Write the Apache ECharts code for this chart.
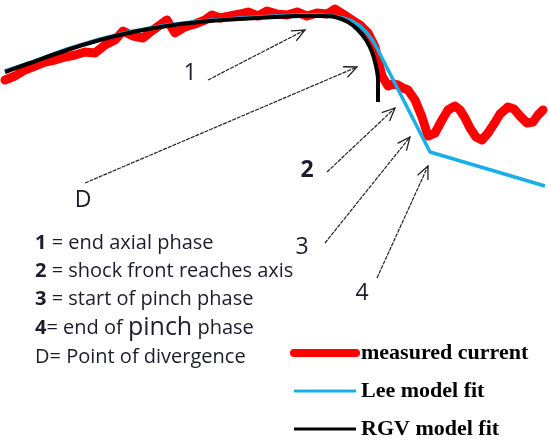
<!DOCTYPE html>
<html>
<head>
<meta charset="utf-8">
<script src="https://cdn.jsdelivr.net/npm/echarts@6/dist/echarts.min.js"></script>
<style>
  html, body { margin: 0; padding: 0; background: #fff; }
  #main { width: 550px; height: 446px; }
</style>
</head>
<body>
<div id="main"></div>
<script>
// time axis in px-like units (0..550), current in arbitrary units (0..446)
var measuredTime = [5, 15, 25, 35, 45, 55, 65, 75, 85, 95, 105, 115, 123, 133, 143, 153, 160, 167, 175, 185,
  195, 205, 212, 220, 230, 240, 248, 258, 267, 277, 287, 297, 307, 317, 327, 335, 343, 352, 360, 368,
  375, 378, 382, 388, 393, 398, 403, 408, 415, 422, 428, 435, 442, 448, 455, 460, 465, 470, 476, 482,
  488, 494, 500, 508, 514, 520, 527, 533, 538, 543];
var measuredCurrent = [366, 370, 376, 380, 384, 386, 389, 391, 394, 393, 401, 406, 415, 410, 408, 416, 421, 426, 413, 419,
  422, 426, 431, 428, 430, 432, 434, 430, 435, 432, 431, 434, 430, 433, 432, 437, 432, 426, 421, 413,
  399, 386, 370, 360, 362, 361, 358, 356, 346, 329, 310, 313, 326, 336, 340, 336, 328, 318, 309, 306,
  313, 322, 332, 339, 337, 330, 323, 324, 331, 336];

var leeTime = [5, 35, 67, 100, 133, 167, 200, 240, 275, 300, 320, 333, 343, 352, 360, 367, 373, 378, 382, 430, 545];
var leeCurrent = [375, 385, 397, 407, 415, 421, 425, 428, 430, 431, 431, 430, 428, 425, 420, 413, 405, 396, 388, 294, 260];

var rgvTime = [5, 30, 67, 100, 133, 167, 200, 240, 275, 300, 320, 335, 348, 358, 366, 372, 376, 378, 378];
var rgvCurrent = [374, 383, 396, 406, 414, 420, 424, 427, 429, 430, 430, 429, 424, 416, 406, 394, 380, 366, 344];

// annotation arrows: label, tail, head, label position
var arrowLabels = ['1', 'D', '2', '3', '4'];
var arrowTail = [[208, 366], [85, 263], [327, 274], [325, 203], [377, 168]];
var arrowHead = [[305, 416], [357, 379], [395, 338], [410, 309], [428, 280]];
var labelPos = [[190, 373], [83, 246], [307, 276], [302, 199], [362, 153]];

var noteLines = [
  '{b|1} = end axial phase',
  '{b|2} = shock front reaches axis',
  '{b|3} = start of pinch phase',
  '{b|4}= end of {p|pinch} phase',
  'D= Point of divergence'
];

function pairs(xs, ys) {
  return xs.map(function (x, i) { return [x, ys[i]]; });
}

var chart = echarts.init(document.getElementById('main'));

var noteY = [243, 271, 299, 328, 357];
var noteGraphics = noteLines.map(function (t, i) {
  return {
    type: 'text',
    x: 35,
    y: noteY[i],
    style: {
      text: t,
      font: '20px "Open Sans"',
      fill: '#1c1c2c',
      verticalAlign: 'middle',
      rich: {
        b: { fontWeight: 'bold', fontSize: 20, fontFamily: 'Open Sans' },
        p: { fontSize: 25, fontFamily: 'Open Sans' }
      }
    }
  };
});

var option = {
  animation: false,
  backgroundColor: '#fff',
  grid: { left: 0, right: 0, top: 0, bottom: 0 },
  xAxis: { type: 'value', min: 0, max: 550, show: false },
  yAxis: { type: 'value', min: 0, max: 446, show: false },
  legend: {
    orient: 'vertical',
    left: 290,
    top: 342,
    height: 104,
    padding: 0,
    itemWidth: 62,
    itemHeight: 14,
    itemGap: 16,
    itemStyle: { opacity: 0, borderWidth: 0 },
    textStyle: {
      fontFamily: 'Liberation Serif',
      fontWeight: 'bold',
      fontSize: 22,
      color: '#000'
    },
    data: [
      { name: 'measured current', lineStyle: { width: 8 } },
      { name: 'Lee model fit', lineStyle: { width: 3 } },
      { name: 'RGV model fit', lineStyle: { width: 3 } }
    ]
  },
  graphic: noteGraphics,
  series: [
    {
      name: 'measured current',
      type: 'line',
      symbol: 'none',
      data: pairs(measuredTime, measuredCurrent),
      lineStyle: { color: '#ff0000', width: 9, cap: 'round', join: 'round' },
      itemStyle: { color: '#ff0000' },
      z: 2
    },
    {
      name: 'Lee model fit',
      type: 'line',
      symbol: 'none',
      data: pairs(leeTime, leeCurrent),
      lineStyle: { color: '#18aee8', width: 3.5, join: 'round' },
      itemStyle: { color: '#18aee8' },
      z: 3
    },
    {
      name: 'RGV model fit',
      type: 'line',
      symbol: 'none',
      smooth: 0.3,
      data: pairs(rgvTime, rgvCurrent),
      lineStyle: { color: '#000', width: 4 },
      itemStyle: { color: '#000' },
      z: 4
    },
    {
      name: 'arrows',
      type: 'custom',
      data: arrowLabels.map(function (l, i) {
        return [arrowTail[i][0], arrowTail[i][1], arrowHead[i][0], arrowHead[i][1], labelPos[i][0], labelPos[i][1]];
      }),
      renderItem: function (params, api) {
        var p0 = api.coord([api.value(0), api.value(1)]);
        var p1 = api.coord([api.value(2), api.value(3)]);
        var lp = api.coord([api.value(4), api.value(5)]);
        var ang = Math.atan2(p1[1] - p0[1], p1[0] - p0[0]);
        var len = 14, spread = 0.42;
        var a1 = [p1[0] - len * Math.cos(ang - spread), p1[1] - len * Math.sin(ang - spread)];
        var a2 = [p1[0] - len * Math.cos(ang + spread), p1[1] - len * Math.sin(ang + spread)];
        var lbl = arrowLabels[params.dataIndex];
        return {
          type: 'group',
          children: [
            { type: 'line', shape: { x1: p0[0], y1: p0[1], x2: p1[0], y2: p1[1] },
              style: { stroke: '#222', lineWidth: 1.2, lineDash: [4, 1] } },
            { type: 'polyline', shape: { points: [a1, p1, a2] },
              style: { stroke: '#222', lineWidth: 1.3, fill: null } },
            { type: 'text', x: lp[0], y: lp[1],
              style: { text: lbl, font: (lbl === '2' ? 'bold ' : '') + '23px "Open Sans"',
                fill: '#1c1c2c', align: 'center', verticalAlign: 'middle' } }
          ]
        };
      },
      z: 5
    }
  ]
};

chart.setOption(option);
</script>
</body>
</html>
